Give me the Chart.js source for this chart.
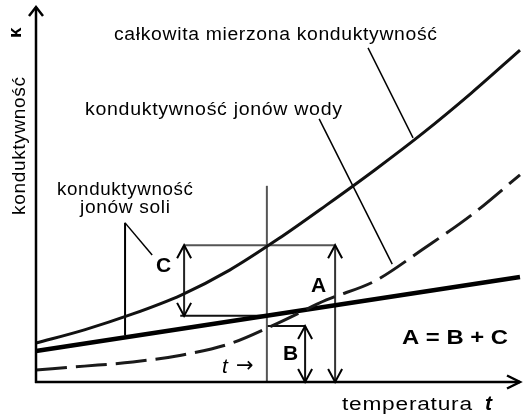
<!DOCTYPE html>
<html>
<head>
<meta charset="utf-8">
<script src="https://cdn.jsdelivr.net/npm/chart.js@4"></script>
<style>
html,body{margin:0;padding:0;background:#fff;}
#wrap{width:529px;height:419px;position:relative;}
</style>
</head>
<body>
<div id="wrap"><canvas id="c" width="529" height="419"></canvas></div>
<script>
// ---- data (temperature 0..100, conductivity 0..100, arbitrary units) ----
const temps      = [0, 10, 20, 30, 40, 50, 60, 70, 80, 90, 100];
const totalCond  = [10.3, 13.8, 18.0, 23.0, 29.6, 37.8, 46.8, 56.1, 65.9, 76.5, 87.8];
const waterCond  = [3.2, 4.2, 5.3, 7.1, 10.1, 15.6, 21.7, 26.7, 35.2, 44.2, 54.8];
const saltTemps  = [0, 100];
const saltCond   = [8.2, 27.8];

// construction at temperature t
const tMark      = 47.7;   // chosen temperature t
const tLineTop   = 51.9;
const levelTotal = 36.2;   // total conductivity at t
const levelSalt  = 17.5;   // salt conductivity at t
const levelWater = 14.8;   // water conductivity at t
const arrowC_x   = 30.6;
const arrowA_x   = 61.8;
const arrowB_x   = 55.6;
const rectLeft   = 29.8;

// leader lines [x1,y1,x2,y2]
const leaderTotal = [68.6, 88.4, 77.9, 64.6];
const leaderWater = [58.5, 69.6, 73.6, 31.2];
const leaderSaltV = [18.4, 42.1, 18.4, 12.4];
const leaderSaltD = [18.4, 42.1, 24.0, 33.6];

const pts = (xs, ys) => xs.map((x, i) => ({x: x, y: ys[i]}));
const seg = a => [{x: a[0], y: a[1]}, {x: a[2], y: a[3]}];

function lineDs(data, color, width, extra) {
  return Object.assign({
    data: data, showLine: true, borderColor: color, borderWidth: width,
    pointRadius: 0, fill: false, clip: false, borderCapStyle: 'butt'
  }, extra || {});
}

const datasets = [
  lineDs(pts(temps, waterCond), '#1a1a1a', 3, {borderDash: [31, 9], cubicInterpolationMode: 'monotone'}),
  lineDs(pts(saltTemps, saltCond), '#000', 4.5),
  lineDs(pts(temps, totalCond), '#111', 3, {cubicInterpolationMode: 'monotone'}),
  // construction
  lineDs(seg([tMark, 0, tMark, tLineTop]), '#555', 2),
  lineDs(seg([arrowC_x, levelTotal, arrowA_x, levelTotal]), '#555', 2),
  lineDs(seg([rectLeft, levelSalt, tMark, levelSalt]), '#111', 2),
  lineDs(seg([tMark, levelWater, arrowB_x, levelWater]), '#111', 2),
  lineDs(seg([arrowC_x, levelTotal, arrowC_x, levelSalt]), '#222', 2),
  lineDs(seg([arrowA_x, levelTotal, arrowA_x, 0]), '#333', 2),
  lineDs(seg([arrowB_x, levelWater, arrowB_x, 0]), '#111', 2),
  // leaders
  lineDs(seg(leaderTotal), '#000', 1.5),
  lineDs(seg(leaderWater), '#000', 1.5),
  lineDs(seg(leaderSaltV), '#000', 2),
  lineDs(seg(leaderSaltD), '#000', 1.5)
];

// draw text, fitting it to width w with a little letter spacing and a horizontal scale
function fitText(ctx, str, x, y, w, font, ls) {
  ctx.font = font;
  const hasLS = 'letterSpacing' in ctx;
  ls = hasLS ? (ls === undefined ? 0.6 : ls) : 0;
  if (hasLS) ctx.letterSpacing = ls + 'px';
  const n = [...str].length;
  const m = ctx.measureText(str).width - (hasLS ? ls : 0);
  ctx.save();
  ctx.translate(x, y);
  if (w) ctx.scale(w / m, 1);
  ctx.fillText(str, 0, 0);
  ctx.restore();
  if (hasLS) ctx.letterSpacing = '0px';
}

const decor = {
  id: 'decor',
  afterDatasetsDraw(chart) {
    const ctx = chart.ctx, a = chart.chartArea;
    const xs = chart.scales.x, ys = chart.scales.y;
    const X = v => xs.getPixelForValue(v), Y = v => ys.getPixelForValue(v);
    ctx.save();
    ctx.strokeStyle = '#000'; ctx.fillStyle = '#000';
    ctx.lineCap = 'butt'; ctx.lineJoin = 'miter';
    // axes
    ctx.lineWidth = 2.5;
    ctx.beginPath();
    ctx.moveTo(a.left, a.bottom + 1); ctx.lineTo(a.left, a.top + 3);
    ctx.moveTo(a.left - 1, a.bottom); ctx.lineTo(a.right, a.bottom);
    ctx.stroke();
    ctx.beginPath();
    ctx.moveTo(a.left - 7, a.top + 12); ctx.lineTo(a.left, a.top + 3); ctx.lineTo(a.left + 7, a.top + 12);
    ctx.moveTo(a.right - 13, a.bottom - 6.5); ctx.lineTo(a.right, a.bottom); ctx.lineTo(a.right - 13, a.bottom + 6.5);
    ctx.stroke();
    // arrowheads on A, B, C
    ctx.lineWidth = 2;
    function head(px, py, dir) { // dir -1 pointing up, +1 pointing down
      ctx.beginPath();
      ctx.moveTo(px - 7, py - dir * 13); ctx.lineTo(px, py); ctx.lineTo(px + 7, py - dir * 13);
      ctx.stroke();
    }
    head(X(arrowC_x), Y(levelTotal), -1);
    head(X(arrowC_x), Y(levelSalt), 1);
    head(X(arrowA_x), Y(levelTotal), -1);
    head(X(arrowA_x), Y(0), 1);
    head(X(arrowB_x), Y(levelWater), -1);
    head(X(arrowB_x), Y(0), 1);

    // texts
    ctx.textBaseline = 'alphabetic'; ctx.textAlign = 'left';
    const F = '"Liberation Sans", Arial, sans-serif';
    fitText(ctx, 'całkowita mierzona konduktywność', 114, 40, 323, '17.5px ' + F);
    fitText(ctx, 'konduktywność jonów wody', 85, 115, 257, '17.5px ' + F);
    fitText(ctx, 'konduktywność', 57, 195, 136, '17.5px ' + F);
    fitText(ctx, 'jonów soli', 80, 213, 90, '17.5px ' + F);
    fitText(ctx, 'C', 156, 272, 0, 'bold 21px ' + F, 0);
    fitText(ctx, 'A', 311, 292, 0, 'bold 21px ' + F, 0);
    fitText(ctx, 'B', 283, 360, 0, 'bold 21px ' + F, 0);
    fitText(ctx, 'A = B + C', 402, 344, 106, 'bold 19.5px ' + F, 0);
    fitText(ctx, 't', 222, 373, 0, 'italic 21px ' + F, 0);
    fitText(ctx, '→', 236, 372, 0, '21px "DejaVu Sans", ' + F, 0);
    fitText(ctx, 'temperatura', 342, 410, 130, '17.5px ' + F);
    fitText(ctx, 't', 485, 410, 0, 'bold italic 21px ' + F, 0);
    // rotated y label
    ctx.save();
    ctx.translate(25, 215); ctx.rotate(-Math.PI / 2);
    fitText(ctx, 'konduktywność', 0, 0, 138, '17.5px ' + F);
    ctx.restore();
    ctx.save();
    ctx.translate(21, 38); ctx.rotate(-Math.PI / 2);
    fitText(ctx, 'κ', 0, 0, 0, 'bold 19px ' + F, 0);
    ctx.restore();
    ctx.restore();
  }
};

new Chart(document.getElementById('c'), {
  type: 'scatter',
  data: {datasets: datasets},
  options: {
    responsive: false,
    animation: false,
    devicePixelRatio: 1,
    layout: {padding: {left: 36, right: 9, top: 4, bottom: 37}},
    plugins: {legend: {display: false}, tooltip: {enabled: false}},
    scales: {
      x: {type: 'linear', min: 0, max: 100, display: false},
      y: {type: 'linear', min: 0, max: 100, display: false}
    }
  },
  plugins: [decor]
});
</script>
</body>
</html>
